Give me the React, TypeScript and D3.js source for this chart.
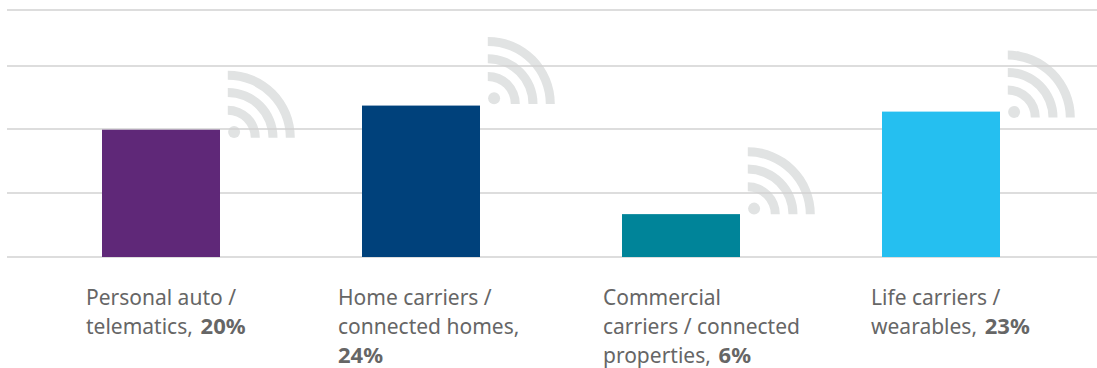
import React from "react";
import * as d3 from "d3";

const categories = [
  ["Personal auto /", "telematics,"],
  ["Home carriers /", "connected homes,"],
  ["Commercial", "carriers / connected", "properties,"],
  ["Life carriers /", "wearables,"],
];
const shares = [20, 24, 6, 23];
const barColors = ["#5f2878", "#00417b", "#008499", "#25bff0"];
const gridValues = [-1.11, 9.5, 20.1, 30.56, 39.85];

const WIDTH = 1097;
const HEIGHT = 368;
const LINE_HEIGHT = 29;
const FIRST_BASELINE = 304.5;
const LABEL_FONT = "'Noto Sans', sans-serif";
const TEXT_COLOR = "#666666";
const ICON_COLOR = "#e1e3e3";

// Per-column tweaks: label indent from the bar centre, and how far each signal icon sits from the bar top.
const labelShift = [-75, -83, -78, -70];
const iconDrop = [8, -1.7, 0.2, 6];

const signalBands: [number, number][] = [
  [23, 32],
  [40.7, 49.7],
  [58, 67],
];

const x = d3
  .scaleBand<number>()
  .domain(d3.range(shares.length))
  .range([31, 1071])
  .paddingInner(142 / 260)
  .paddingOuter(71 / 260);

const y = d3.scaleLinear().domain([-1.11, 39.85]).range([257, 10]);

const arc = d3.arc<[number, number]>()
  .innerRadius((d) => d[0])
  .outerRadius((d) => d[1])
  .startAngle(0)
  .endAngle(Math.PI / 2);

function SignalIcon({ px, py }: { px: number; py: number }) {
  return (
    <g transform={`translate(${px},${py})`} fill={ICON_COLOR}>
      {signalBands.map((b, i) => (
        <path key={i} d={arc(b) ?? ""} />
      ))}
      <circle cx={6.3} cy={-5.7} r={6} />
    </g>
  );
}

export default function App() {
  const barWidth = x.bandwidth();
  return (
    <svg
      width={WIDTH}
      height={HEIGHT}
      viewBox={`0 0 ${WIDTH} ${HEIGHT}`}
      style={{ position: "absolute", left: 0, top: 0, display: "block" }}
    >
      {shares.map((v, i) => (
        <SignalIcon key={i} px={(x(i) as number) + barWidth + 7.8} py={y(v) + iconDrop[i]} />
      ))}
      {gridValues.map((g) => (
        <line key={g} x1={7} x2={WIDTH} y1={y(g)} y2={y(g)} stroke="#d2d2d2" strokeWidth={1.5} />
      ))}
      {shares.map((v, i) => (
        <rect
          key={i}
          x={x(i)}
          y={y(v)}
          width={barWidth}
          height={y(gridValues[0]) - y(v)}
          fill={barColors[i]}
        />
      ))}
      {categories.map((lines, i) => {
        const left = (x(i) as number) + barWidth / 2 + labelShift[i];
        return (
          <text key={i} fontFamily={LABEL_FONT} fontSize={21} fill={TEXT_COLOR} xmlSpace="preserve">
            {lines.map((line, j) => (
              <tspan key={j} x={left} y={FIRST_BASELINE + j * LINE_HEIGHT}>
                {line}
                {j === lines.length - 1 && i !== 1 ? (
                  <tspan fontWeight={700} fontSize={22} wordSpacing={2}>{` ${shares[i]}%`}</tspan>
                ) : null}
              </tspan>
            ))}
            {i === 1 ? (
              <tspan x={left} y={FIRST_BASELINE + lines.length * LINE_HEIGHT} fontWeight={700} fontSize={22}>
                {`${shares[i]}%`}
              </tspan>
            ) : null}
          </text>
        );
      })}
    </svg>
  );
}
